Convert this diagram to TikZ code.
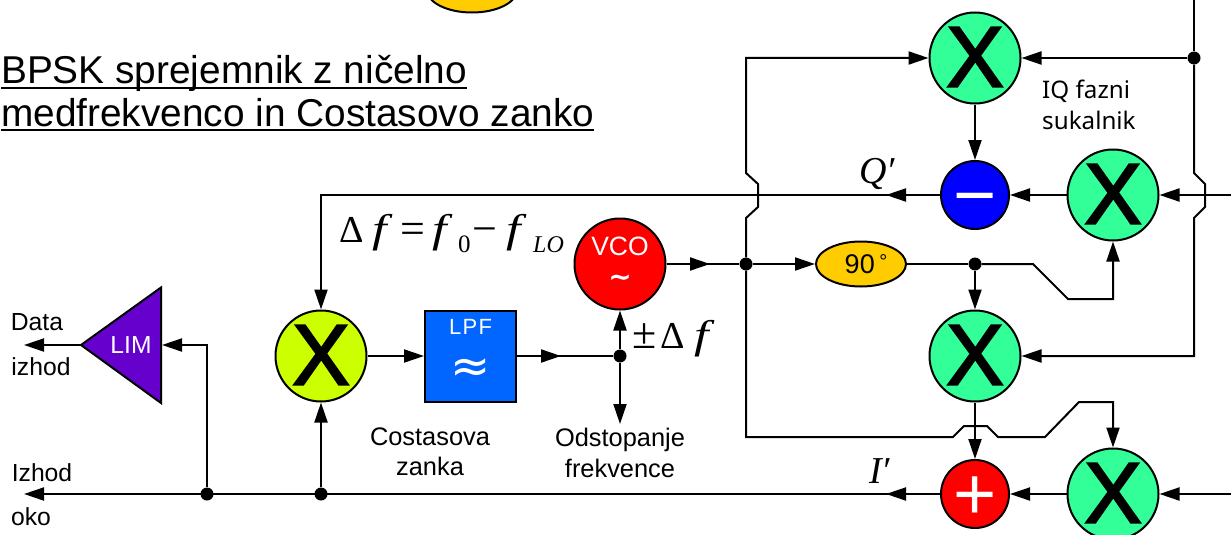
\documentclass[tikz,border=0pt]{standalone}
\usepackage{fontspec}
\usetikzlibrary{arrows.meta,shapes.geometric}
\setmainfont{Liberation Sans}
\newfontfamily\serifm{Liberation Serif}
\newfontfamily\notof{Noto Sans}
\newfontfamily\dejav{DejaVu Sans}
\newfontfamily\spaced[LetterSpace=6]{Liberation Sans}
\newfontfamily\xfont[FakeBold=2.5]{Liberation Sans}
\newcommand{\fsz}[1]{\fontsize{#1}{#1}\selectfont}
\newcommand{\symb}[1]{\raisebox{-25pt}[0pt][0pt]{#1}}
\newcommand{\widef}{\scalebox{1.3}[1]{\itshape f}}
\tikzset{
  wire/.style={line width=2pt,line join=miter},
  tip/.style={wire,-{Triangle[length=20pt,width=13pt]}},
  dot/.style={circle,fill=black,inner sep=0pt,minimum size=13pt},
  mixer/.style={circle,draw=black,line width=2pt,inner sep=0pt,minimum size=91pt,font=\xfont\fsz{86}},
  greenmix/.style={mixer,fill=mixgreen},
  sumnode/.style={circle,draw=black,line width=2pt,inner sep=0pt,minimum size=68pt,text=white,font=\fsz{74}},
  lbl/.style={inner sep=0pt,align=center,font=\fsz{25.4}},
  lbs/.style={inner sep=0pt,font=\fsz{24.7}},
  mth/.style={inner sep=0pt,anchor=base west,font=\serifm\fsz{40}},
  oval/.style={ellipse,draw=black,line width=2pt,fill=ovalyel,inner sep=0pt,minimum width=90pt,minimum height=45pt}
}
\definecolor{mixgreen}{HTML}{33FF99}
\definecolor{mixlime}{HTML}{CCFF00}
\definecolor{ovalyel}{HTML}{FFCC00}
\definecolor{lpfblue}{HTML}{0066FF}
\definecolor{limpur}{HTML}{6600CC}
\begin{document}
\begin{tikzpicture}[x=1pt,y=-1pt]
\useasboundingbox (0,0) rectangle (1231,535);
\clip (0,0) rectangle (1231,535);
% title
\node[inner sep=0pt,anchor=base west,font=\fsz{38.8}] (t1) at (1,84) {BPSK sprejemnik z ničelno};
\node[inner sep=0pt,anchor=base west,font=\fsz{38.8}] (t2) at (1,126) {medfrekvenco in Costasovo zanko};
\draw[line width=2pt] ([yshift=-4pt]t1.base west) -- ([yshift=-4pt]t1.base east);
\draw[line width=2pt] ([yshift=-4pt]t2.base west) -- ([yshift=-4pt]t2.base east);
% nodes
\node[oval] (topoval) at (472,-10) {};
\node[greenmix] (mt) at (975,58) {\raisebox{2pt}{X}};
\node[greenmix] (mq) at (1113,195) {\raisebox{2pt}{X}};
\node[greenmix] (mm) at (975,356) {\raisebox{2pt}{X}};
\node[greenmix] (mi) at (1113,494) {\raisebox{2pt}{X}};
\node[mixer,fill=mixlime] (mc) at (321,356) {\raisebox{2pt}{X}};
\node[sumnode,fill=blue] (minus) at (975,195) {\symb{−}};
\node[sumnode,fill=red] (plus) at (975,494) {\symb{+}};
\node[circle,draw=black,line width=2pt,fill=red,inner sep=0pt,minimum size=91pt] (vco) at (620,264) {};
\node[inner sep=0pt,text=white,font=\fsz{26.5}] (vcot) at (620,246) {VCO};
\node[inner sep=0pt,text=white,font=\dejav\bfseries\fsz{28}] (vcos) at (620,281) {\char"223C};
\node[rectangle,draw=black,line width=2pt,fill=lpfblue,inner sep=0pt,minimum size=91pt] (lpf) at (470.5,356) {};
\node[inner sep=0pt,text=white,font=\spaced\fsz{22}] (lpft) at (470.5,327) {LPF};
\node[inner sep=0pt,text=white,font=\dejav\fsz{48}] (lpfs) at (470.5,371) {≈};
\node[oval] (ph) at (861,264) {};
\node[inner sep=0pt,font=\fsz{27}] (pht) at (866,264) {90\,\raisebox{5pt}{\fsz{20}°}};
\coordinate (limt) at (81,345);
\path[draw=black,line width=2pt,fill=limpur,line join=miter] (81,345) -- (161,287.5) -- (161,403) -- cycle;
\coordinate (limr) at (162,345);
\node[inner sep=0pt,text=white,font=\fsz{24.6}] (limtx) at (131,345) {LIM};
% junctions
\node[dot] (ja) at (1194,58) {};
\node[dot] (jb) at (746,264) {};
\node[dot] (jc) at (975,264) {};
\node[dot] (jd) at (620,356) {};
\node[dot] (je) at (207,494) {};
\node[dot] (jf) at (321,494) {};
% free ends
\coordinate (top) at (1194,0);
\coordinate (rq) at (1231,195);
\coordinate (ri) at (1231,494);
\coordinate (lb) at (24,494);
\coordinate (ld) at (24,345);
\coordinate (odst) at (620,424);
% connectors
\draw[wire] (top) -- (ja);
\draw[tip] (ja) -- (mt);
\draw[tip] (ja) -- (1194,173) -- (1205,184) -- (1205,207) -- (1194,218) -- (1194,356) -- (mm);
\draw[tip] (jb) -- (746,218) -- (758,207) -- (758,184) -- (746,173) -- (746,58) -- (mt);
\draw[tip] (mt) -- (minus);
\draw[tip] (mq) -- (minus);
\draw[tip] (rq) -- (mq);
\draw[tip] (minus) -- (886,195);
\draw[tip] (minus) -| (mc);
\draw[tip] (vco) -- (710,264);
\draw[wire] (vco) -- (jb);
\draw[tip] (jb) -- (ph);
\draw[wire] (ph) -- (jc);
\draw[tip] (jc) -- (mm);
\draw[tip] (jc) -- (1033,264) -- (1068,299) -- (1113,299) -- (mq);
\draw[tip] (mm) -- (plus);
\draw[tip] (jb) -- (746,437) -- (953,437) -- (964,426) -- (987,426) -- (998,437) -- (1045,437) -- (1079,402) -- (1113,402) -- (mi);
\draw[tip] (mi) -- (plus);
\draw[tip] (ri) -- (mi);
\draw[tip] (plus) -- (886,494);
\draw[tip] (plus) -- (lb);
\draw[tip] (jf) -- (mc);
\draw[tip] (je) |- (limr);
\draw[tip] (limt) -- (ld);
\draw[tip] (mc) -- (lpf);
\draw[tip] (lpf) -- (561,356);
\draw[wire] (lpf) -- (jd);
\draw[tip] (jd) -- (vco);
\draw[tip] (jd) -- (odst);
% labels
\node[lbs] (ld1) at (37,322) {Data};
\node[lbs] (ld2) at (41,367) {izhod};
\node[lbs] (ld3) at (42,473) {Izhod};
\node[lbs] (ld4) at (31,517) {oko};
\node[lbl] (lc) at (430,452) {Costasova\\[5pt]zanka};
\node[lbl] (lo) at (620,453) {Odstopanje\\[5pt]frekvence};
\node[inner sep=0pt,anchor=west,align=left,font=\notof\fsz{24.2}] (liq) at (1042,105) {IQ fazni\\[7pt]sukalnik};
\node[mth,font=\serifm\fsz{38}] (eq1) at (339,242) {Δ};
\node[mth] (eq2) at (372,242) {\widef};
\node[mth,font=\serifm\fsz{44}] (eq3) at (400,243) {=};
\node[mth] (eq4) at (432,242) {\widef};
\node[mth,font=\serifm\fsz{25}] (eq5) at (458,252) {0};
\node[mth,font=\serifm\fsz{44}] (eq6) at (472,243) {−};
\node[mth] (eq7) at (506,242) {\widef};
\node[mth,font=\serifm\itshape\fsz{24}] (eq8) at (533,252) {LO};
\node[mth,font=\serifm\fsz{44}] (pm0) at (632,348) {±};
\node[mth,font=\serifm\fsz{38}] (pm1) at (660,348) {Δ};
\node[mth] (pm2) at (694,348) {\widef};
\node[mth,font=\serifm\fsz{38}] (qp) at (859,183) {\itshape Q′};
\node[mth,font=\serifm\fsz{38}] (ip) at (869,483) {\itshape I′};
\end{tikzpicture}
\end{document}
